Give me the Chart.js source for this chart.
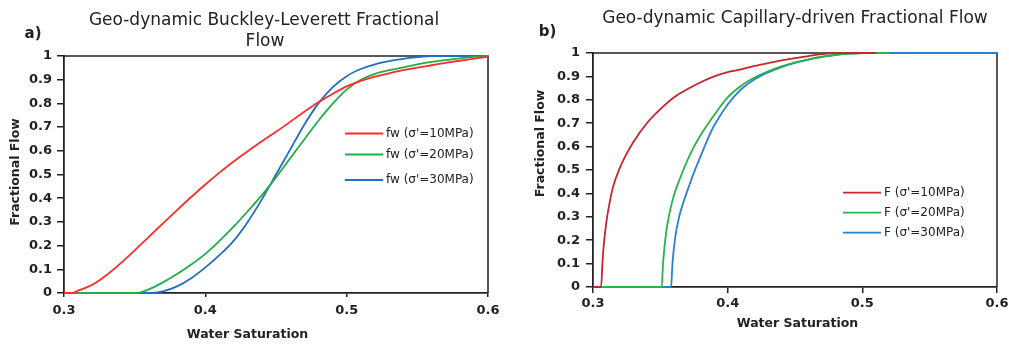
<!DOCTYPE html>
<html><head><meta charset="utf-8">
<script src="https://cdn.jsdelivr.net/npm/chart.js@4"></script>
<style>
html,body{margin:0;padding:0;background:#fff;overflow:hidden}
#wrap{position:relative;width:1009px;height:349px;background:#fff}
canvas{position:absolute;top:0}
</style></head><body>
<div id="wrap"><canvas id="ca" width="500" height="349" style="left:0"></canvas><canvas id="cb" width="509" height="349" style="left:500px"></canvas></div>
<script>
// ---- tick labels ----
const xTickLabels = ['0.3','0.4','0.5','0.6'];
const yTickLabels = ['0','0.1','0.2','0.3','0.4','0.5','0.6','0.7','0.8','0.9','1'];

// ---- chart a) Buckley-Leverett fractional flow ----
const labelsA = ["fw (σ'=10MPa)", "fw (σ'=20MPa)", "fw (σ'=30MPa)"];
const swA_red = [0.300,0.306,0.310,0.320,0.330,0.340,0.350,0.360,0.370,0.380,0.390,0.400,0.410,0.420,0.430,0.440,0.450,0.460,0.470,0.480,0.490,0.500,0.510,0.520,0.530,0.540,0.550,0.560,0.570,0.580,0.590,0.600];
const fwA_red = [0,0,0.01,0.035,0.075,0.125,0.18,0.237,0.294,0.35,0.405,0.458,0.508,0.555,0.598,0.64,0.68,0.722,0.765,0.805,0.84,0.872,0.895,0.913,0.927,0.94,0.951,0.961,0.971,0.98,0.989,0.997];
const swA_green = [0.300,0.350,0.355,0.360,0.370,0.380,0.390,0.400,0.410,0.420,0.430,0.440,0.450,0.460,0.470,0.480,0.490,0.500,0.510,0.520,0.530,0.540,0.550,0.560,0.570,0.580,0.590,0.600];
const fwA_green = [0,0,0.004,0.015,0.045,0.08,0.12,0.165,0.22,0.28,0.345,0.413,0.488,0.568,0.648,0.727,0.798,0.858,0.90,0.925,0.94,0.952,0.965,0.975,0.983,0.99,0.996,1.0];
const swA_blue = [0.300,0.360,0.365,0.370,0.380,0.390,0.400,0.410,0.420,0.430,0.440,0.450,0.460,0.470,0.480,0.490,0.500,0.510,0.520,0.530,0.540,0.550,0.560,0.600];
const fwA_blue = [0,0,0.002,0.007,0.028,0.062,0.108,0.16,0.22,0.30,0.395,0.50,0.605,0.71,0.80,0.868,0.915,0.945,0.965,0.978,0.988,0.995,1.0,1.0];

// ---- chart b) Capillary-driven fractional flow ----
const labelsB = ["F (σ'=10MPa)", "F (σ'=20MPa)", "F (σ'=30MPa)"];
const swB_red = [0.300,0.306,0.307,0.308,0.310,0.312,0.315,0.320,0.325,0.330,0.340,0.350,0.360,0.370,0.380,0.390,0.400,0.410,0.420,0.430,0.440,0.450,0.460,0.470,0.480,0.510];
const fB_red = [0,0,0.10,0.18,0.28,0.35,0.43,0.51,0.57,0.62,0.70,0.76,0.81,0.845,0.875,0.90,0.918,0.93,0.945,0.957,0.968,0.978,0.987,0.995,1.0,1.0];
const swB_green = [0.300,0.351,0.352,0.354,0.357,0.360,0.365,0.370,0.375,0.380,0.390,0.400,0.410,0.420,0.430,0.440,0.450,0.460,0.470,0.480,0.490,0.500,0.520];
const fB_green = [0,0,0.10,0.22,0.32,0.39,0.47,0.54,0.60,0.65,0.735,0.81,0.86,0.895,0.922,0.943,0.96,0.973,0.984,0.992,0.997,1.0,1.0];
const swB_blue = [0.300,0.358,0.359,0.361,0.364,0.367,0.370,0.375,0.380,0.385,0.390,0.400,0.410,0.420,0.430,0.440,0.450,0.460,0.470,0.480,0.490,0.500,0.600];
const fB_blue = [0,0,0.10,0.21,0.30,0.36,0.41,0.49,0.56,0.63,0.69,0.78,0.845,0.888,0.917,0.94,0.958,0.972,0.983,0.991,0.997,1.0,1.0];

const FONT = "'DejaVu Sans', 'Liberation Sans', sans-serif";
const INK = '#222';

function pts(xs, ys){ return xs.map((x,i)=>({x:x, y:ys[i]})); }

function makeChart(canvasId, cfg){
  const ds = cfg.series.map(s => ({
    label: s.label, data: pts(s.x, s.y), borderColor: s.color, backgroundColor: s.color,
    borderWidth: 1.8, pointRadius: 0, cubicInterpolationMode: 'monotone', fill: false, clip: 4
  }));
  const textPlugin = {
    id: 'texts',
    beforeDatasetsDraw(chart){
      const {ctx, chartArea:a} = chart;
      ctx.save(); ctx.strokeStyle = INK; ctx.lineWidth = 1.5;
      ctx.beginPath(); ctx.moveTo(a.left, a.top); ctx.lineTo(a.right, a.top); ctx.lineTo(a.right, a.bottom); ctx.stroke();
      ctx.restore();
    },
    afterDraw(chart){
      const ctx = chart.ctx;
      ctx.save();
      ctx.fillStyle = INK; ctx.textBaseline = 'middle';
      // titles
      ctx.font = '17px ' + FONT; ctx.textAlign = 'center';
      cfg.title.forEach(t => ctx.fillText(t.text, t.x, t.y));
      ctx.font = 'bold 15px ' + FONT;
      ctx.fillText(cfg.tag.text, cfg.tag.x, cfg.tag.y);
      // axis titles
      ctx.font = 'bold 12.5px ' + FONT;
      ctx.fillText('Water Saturation', cfg.xTitle.x, cfg.xTitle.y);
      ctx.save(); ctx.translate(cfg.yTitle.x, cfg.yTitle.y); ctx.rotate(-Math.PI/2);
      ctx.fillText('Fractional Flow', 0, 0); ctx.restore();
      // legend
      ctx.font = '12px ' + FONT; ctx.textAlign = 'left';
      chart.data.datasets.forEach((d,i) => {
        const y = cfg.legend.rows[i];
        ctx.strokeStyle = d.borderColor; ctx.lineWidth = 1.8;
        ctx.beginPath(); ctx.moveTo(cfg.legend.x, y); ctx.lineTo(cfg.legend.x + 38, y); ctx.stroke();
        ctx.fillStyle = INK; ctx.fillText(d.label, cfg.legend.x + 41, y);
      });
      ctx.restore();
    }
  };
  return new Chart(document.getElementById(canvasId), {
    type: 'line',
    data: { datasets: ds },
    options: {
      responsive: false, animation: false, devicePixelRatio: 1,
      layout: { padding: { top: cfg.area.top, right: cfg.area.right, left: 0, bottom: 0 } },
      plugins: { legend: { display: false }, title: { display: false }, tooltip: { enabled: false } },
      scales: {
        x: {
          type: 'linear', min: 0.3, max: 0.6,
          afterFit(s){ s.height = cfg.area.xh; s.paddingLeft = 0; s.paddingRight = 0; },
          grid: { display: true, drawOnChartArea: false, drawTicks: true, tickLength: cfg.ticks.xLen, color: INK, lineWidth: 1.5 },
          border: { display: true, color: INK, width: 1.8 },
          ticks: { stepSize: 0.1, padding: cfg.ticks.xPad, color: INK, maxRotation: 0, autoSkip: false,
            font: { family: FONT, size: 13, weight: 'bold' },
            callback: (v, i) => xTickLabels[i] }
        },
        y: {
          type: 'linear', min: 0, max: 1,
          afterFit(s){ s.width = cfg.area.yw; s.paddingTop = 0; s.paddingBottom = 0; },
          grid: { display: true, drawOnChartArea: false, drawTicks: true, tickLength: 7, color: INK, lineWidth: 1.5 },
          border: { display: true, color: INK, width: 1.8 },
          ticks: { stepSize: 0.1, padding: cfg.ticks.yPad, color: INK, autoSkip: false,
            font: { family: FONT, size: 13, weight: 'bold' },
            callback: (v, i) => yTickLabels[i] }
        }
      }
    },
    plugins: [textPlugin]
  });
}

makeChart('ca', {
  series: [
    { label: labelsA[0], x: swA_red, y: fwA_red, color: '#ff2b2b' },
    { label: labelsA[1], x: swA_green, y: fwA_green, color: '#1fae4b' },
    { label: labelsA[2], x: swA_blue, y: fwA_blue, color: '#1f6fc5' }
  ],
  area: { top: 56, right: 12, xh: 56, yw: 64 },
  ticks: { xLen: 4, xPad: 6, yPad: 5 },
  title: [ { text: 'Geo-dynamic Buckley-Leverett Fractional', x: 264, y: 21 }, { text: 'Flow', x: 265, y: 42 } ],
  tag: { text: 'a)', x: 33, y: 34 },
  xTitle: { x: 247.5, y: 335 },
  yTitle: { x: 16, y: 172 },
  legend: { x: 345, rows: [133.5, 154.5, 180] }
});

makeChart('cb', {
  series: [
    { label: labelsB[0], x: swB_red, y: fB_red, color: '#c4262e' },
    { label: labelsB[1], x: swB_green, y: fB_green, color: '#2ab34b' },
    { label: labelsB[2], x: swB_blue, y: fB_blue, color: '#2b80d0' }
  ],
  area: { top: 53, right: 12, xh: 62, yw: 93 },
  ticks: { xLen: 6, xPad: 3, yPad: 6 },
  title: [ { text: 'Geo-dynamic Capillary-driven Fractional Flow', x: 295, y: 19 } ],
  tag: { text: 'b)', x: 47.5, y: 32 },
  xTitle: { x: 297.5, y: 324 },
  yTitle: { x: 41, y: 143.5 },
  legend: { x: 343, rows: [192.7, 212.7, 232.7] }
});
</script>
</body></html>
